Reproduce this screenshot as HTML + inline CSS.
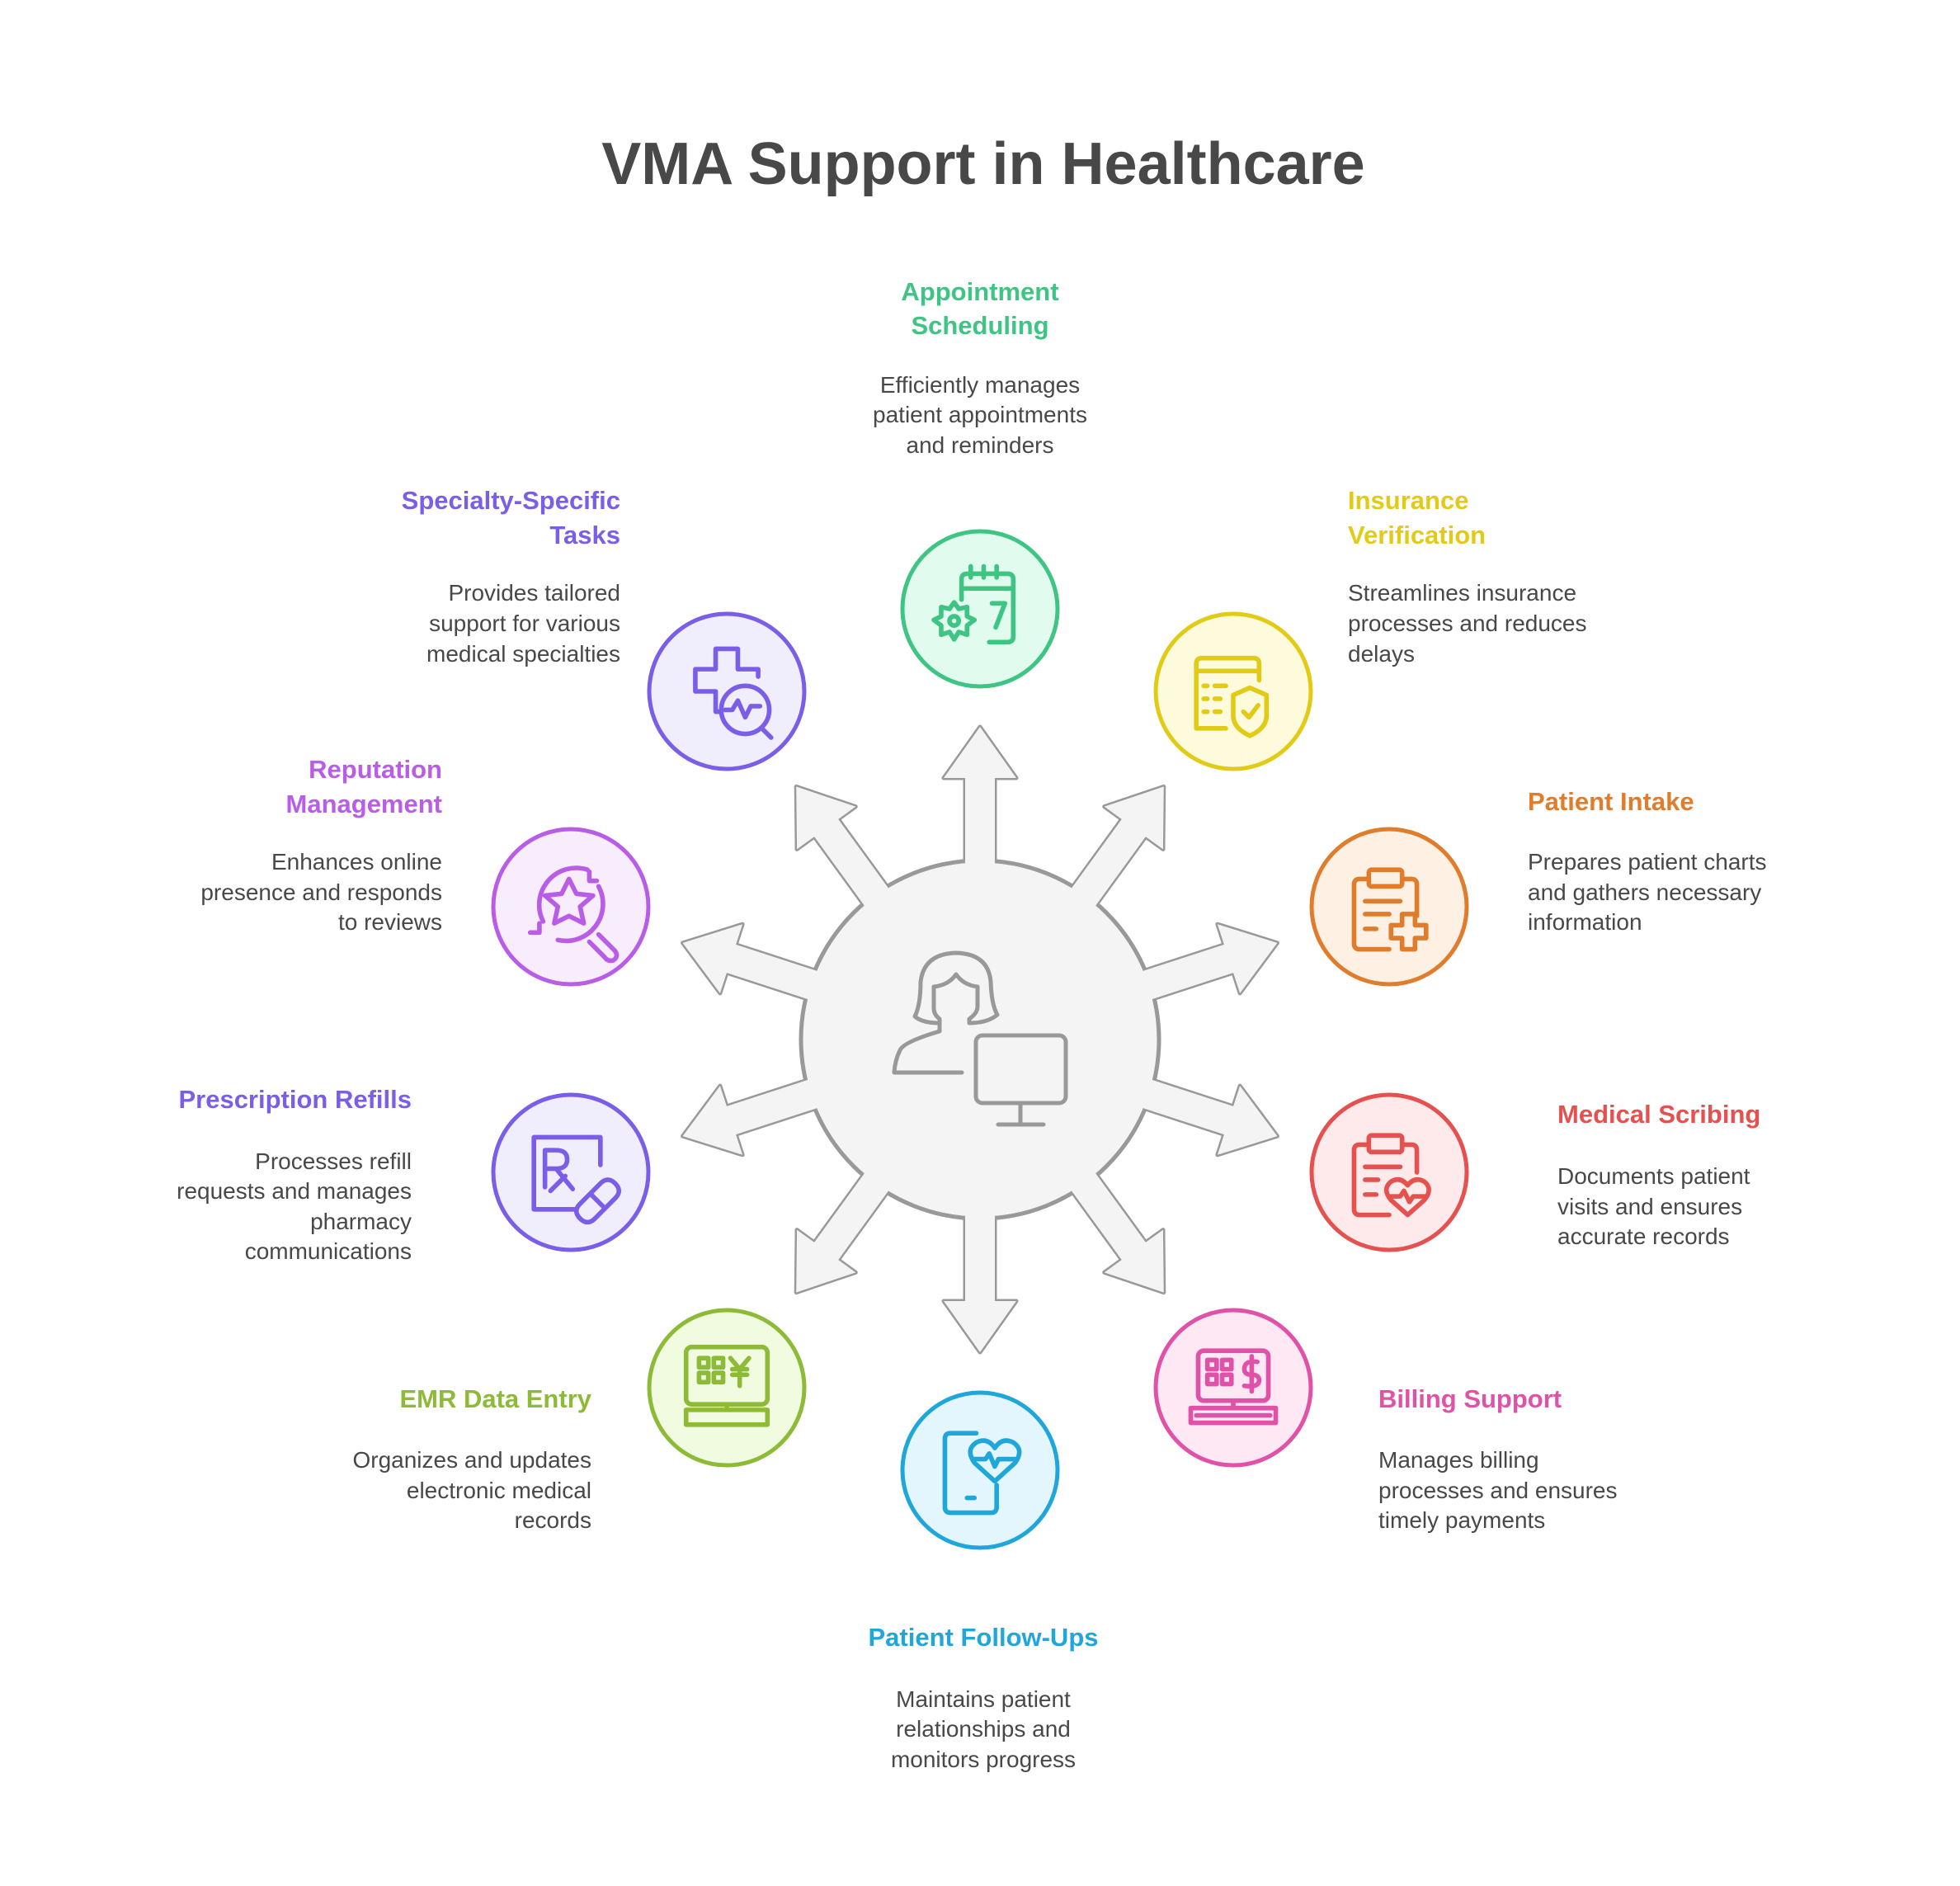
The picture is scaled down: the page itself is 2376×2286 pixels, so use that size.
<!DOCTYPE html>
<html><head><meta charset="utf-8"><style>
html,body{margin:0;padding:0;background:#fff}
svg{display:block}
text{font-family:"Liberation Sans",Arial,sans-serif}
.h{font-size:31px;font-weight:bold}
.d{font-size:28px;fill:#484848}
</style></head><body>
<svg width="2376" height="2286" viewBox="0 0 2376 2286" xmlns="http://www.w3.org/2000/svg">
<rect width="2376" height="2286" fill="#fff"/>
<text x="1192" y="223" text-anchor="middle" font-size="72" font-weight="bold" fill="#484848">VMA Support in Healthcare</text>

<defs>
<polygon id="arS" points="-18,-150 -18,-317 -44,-317 0,-379 44,-317 18,-317 18,-150"/>
<polygon id="arF" points="-18,-195 -18,-317 -44,-317 0,-379 44,-317 18,-317 18,-195"/>
</defs>
<g transform="translate(1188,1260)">
<g fill="#f4f4f4" stroke="#999" stroke-width="5" stroke-linejoin="round">
<use href="#arS" transform="rotate(0)"/><use href="#arS" transform="rotate(36)"/><use href="#arS" transform="rotate(72)"/><use href="#arS" transform="rotate(108)"/><use href="#arS" transform="rotate(144)"/><use href="#arS" transform="rotate(180)"/><use href="#arS" transform="rotate(216)"/><use href="#arS" transform="rotate(252)"/><use href="#arS" transform="rotate(288)"/><use href="#arS" transform="rotate(324)"/>
<circle r="217"/>
</g>
<g fill="#f4f4f4">
<use href="#arF" transform="rotate(0)"/><use href="#arF" transform="rotate(36)"/><use href="#arF" transform="rotate(72)"/><use href="#arF" transform="rotate(108)"/><use href="#arF" transform="rotate(144)"/><use href="#arF" transform="rotate(180)"/><use href="#arF" transform="rotate(216)"/><use href="#arF" transform="rotate(252)"/><use href="#arF" transform="rotate(288)"/><use href="#arF" transform="rotate(324)"/>
</g>
</g>
<!-- center icon -->
<g fill="none" stroke="#999" stroke-width="5" stroke-linecap="round" stroke-linejoin="round">
<path d="M1166,1300 L1084,1300 Q1085,1285 1091,1273 Q1095,1263 1139,1250 L1139,1240 Q1118,1240 1109,1232 Q1116,1218 1116,1190 Q1120,1156 1159,1155 Q1198,1156 1201,1190 Q1202,1218 1209,1230 Q1197,1240 1175,1240 L1175,1235 Q1185,1228 1185,1220 L1185,1196 Q1168,1194 1159,1181 Q1150,1194 1132,1196 L1132,1222 Q1132,1230 1139,1235 L1139,1240"/>
<rect x="1183" y="1255" width="109" height="82" rx="8"/>
<path d="M1237,1337 L1237,1363 M1210,1363 L1265,1363"/>
</g>

<!-- nodes -->
<g stroke-width="5">
<circle cx="1188" cy="738" r="94" fill="#e2fbef" stroke="#3ec483"/>
<circle cx="1495" cy="838" r="94" fill="#fefadc" stroke="#e1cb17"/>
<circle cx="1684" cy="1099" r="94" fill="#fef0e3" stroke="#e07d2c"/>
<circle cx="1684" cy="1421" r="94" fill="#feeaea" stroke="#e5514f"/>
<circle cx="1495" cy="1682" r="94" fill="#fde8f4" stroke="#e052a8"/>
<circle cx="1188" cy="1782" r="94" fill="#e4f6fd" stroke="#1fa6da"/>
<circle cx="881" cy="1682" r="94" fill="#f1fbe0" stroke="#8dbb38"/>
<circle cx="692" cy="1421" r="94" fill="#f0edfd" stroke="#7b5ee8"/>
<circle cx="692" cy="1099" r="94" fill="#f8edfd" stroke="#b95de6"/>
<circle cx="881" cy="838" r="94" fill="#f0edfd" stroke="#7b5ee8"/>
</g>

<g fill="none" stroke-width="5" stroke-linecap="round" stroke-linejoin="round">
<g transform="translate(1188,738) scale(1.12)" stroke="#3ec483">
<path d="M-20,-10 L-20,-32 Q-20,-38 -14,-38 L30,-38 Q36,-38 36,-32 L36,30 Q36,36 30,36 L10,36"/>
<path d="M-20,-22 L36,-22 M-10,-46 L-10,-34 M4,-46 L4,-34 M18,-46 L18,-34"/>
<path d="M13,-6 L27,-6 L17,20"/>
<path d="M-28,-7 L-23,0 L-14,-2 L-14,8 L-6,12 L-14,18 L-14,28 L-23,25 L-28,33 L-33,25 L-42,28 L-42,18 L-50,12 L-42,8 L-42,-2 L-33,0 Z"/>
<circle cx="-28" cy="13" r="5"/>
</g>
<g transform="translate(1495,838) scale(1.12)" stroke="#e1cb17">
<path d="M-8,40 L-40,40 L-40,-30 Q-40,-36 -34,-36 L22,-36 Q28,-36 28,-30 L28,-12"/>
<path d="M-40,-22 L28,-22 M-32,-6 L-28,-6 M-20,-6 L-8,-6 M-32,8 L-28,8 M-20,8 L-14,8 M-32,22 L-28,22 M-20,22 L-14,22"/>
<path d="M18,-4 L36,4 L36,26 Q36,40 18,48 Q0,40 0,26 L0,4 Z"/>
<path d="M11,22 L17,28 L27,15"/>
</g>
<g transform="translate(1684,1099) scale(1.12)" stroke="#e07d2c">
<path d="M-24,-30 L-32,-30 Q-38,-30 -38,-24 L-38,40 Q-38,46 -32,46 L0,46 M30,10 L30,-24 Q30,-30 24,-30 L16,-30"/>
<rect x="-22" y="-40" width="36" height="18" rx="3"/>
<path d="M-26,-6 L12,-6 M-26,8 L0,8 M-26,24 L-14,24"/>
<path d="M14,8 L28,8 L28,20 L40,20 L40,34 L28,34 L28,46 L14,46 L14,34 L2,34 L2,20 L14,20 Z"/>
</g>
<g transform="translate(1684,1421) scale(1.12)" stroke="#e5514f">
<path d="M-24,-30 L-32,-30 Q-38,-30 -38,-24 L-38,40 Q-38,46 -32,46 L0,46 M30,0 L30,-24 Q30,-30 24,-30 L16,-30"/>
<rect x="-22" y="-40" width="36" height="18" rx="3"/>
<path d="M-26,-6 L12,-6 M-26,8 L-12,8 M-26,24 L-14,24"/>
<path d="M20,46 L2,30 Q-8,18 2,10 Q12,4 20,14 Q28,4 38,10 Q48,18 38,30 Z"/>
<path d="M0,26 L12,26 L16,20 L22,32 L26,26 L40,26"/>
</g>
<g transform="translate(1495,1682) scale(1.12)" stroke="#e052a8">
<rect x="-38" y="-40" width="76" height="54" rx="6"/>
<rect x="-28" y="-30" width="10" height="10"/><rect x="-12" y="-30" width="10" height="10"/>
<rect x="-28" y="-14" width="10" height="10"/><rect x="-12" y="-14" width="10" height="10"/>
<path d="M26,-28 Q12,-30 12,-20 Q12,-14 20,-14 Q28,-14 28,-8 Q28,0 12,-2 M20,-34 L20,4"/>
<path d="M0,14 L0,22 M-46,22 L46,22 L46,38 L-46,38 Z M-40,30 L40,30"/>
</g>
<g transform="translate(1188,1782) scale(1.12)" stroke="#1fa6da">
<path d="M-4,-40 L-32,-40 Q-38,-40 -38,-34 L-38,40 Q-38,46 -32,46 L12,46 Q18,46 18,40 L18,16"/>
<path d="M-14,30 L-6,30"/>
<path d="M16,12 L-6,-8 Q-16,-22 -4,-30 Q8,-36 16,-24 Q24,-36 36,-30 Q48,-22 38,-8 Z"/>
<path d="M-6,-12 L6,-12 L10,-18 L16,-4 L20,-12 L38,-12"/>
</g>
<g transform="translate(881,1682) scale(1.12)" stroke="#8dbb38">
<rect x="-44" y="-44" width="88" height="62" rx="6"/>
<rect x="-30" y="-32" width="10" height="10"/><rect x="-14" y="-32" width="10" height="10"/>
<rect x="-30" y="-16" width="10" height="10"/><rect x="-14" y="-16" width="10" height="10"/>
<path d="M4,-32 L14,-20 L24,-32 M14,-20 L14,-2 M6,-14 L22,-14 M6,-20 L22,-20"/>
<path d="M0,18 L0,24 M-44,24 L44,24 L44,40 L-44,40 Z"/>
</g>
<g transform="translate(692,1421) scale(1.12)" stroke="#7b5ee8">
<path d="M4,40 L-40,40 L-40,-38 L32,-38 L32,-8"/>
<path d="M-28,16 L-28,-24 L-16,-24 Q-4,-24 -4,-14 Q-4,-4 -16,-4 L-28,-4 M-16,-4 L2,18 M-6,4 L-22,20"/>
<path d="M10,34 L32,12 Q40,4 48,12 Q56,20 48,28 L26,50 Q18,58 10,50 Q2,42 10,34 Z M21,23 L37,39"/>
</g>
<g transform="translate(692,1099) scale(1.12)" stroke="#b95de6">
<path d="M-30,16 A40,40 0 0 1 18,-40 M30,-22 A40,40 0 0 1 -14,36"/>
<path d="M28,-28 L20,-28 L20,-38 M-44,28 L-34,28 L-34,18"/>
<path d="M-2,-30 L6,-14 L24,-12 L10,0 L14,18 L-2,10 L-18,18 L-14,0 L-28,-12 L-10,-14 Z"/>
<path d="M30,30 L48,48 Q52,54 46,58 Q40,60 36,54 L20,38"/>
</g>
<g transform="translate(881,838) scale(1.12)" stroke="#7b5ee8">
<path d="M-6,22 L-12,22 L-12,0 L-34,0 L-34,-24 L-12,-24 L-12,-46 L12,-46 L12,-24 L34,-24 L34,-16"/>
<circle cx="20" cy="20" r="26"/>
<path d="M38,40 L48,50 M-2,20 L6,20 L12,10 L20,28 L26,16 L36,16"/>
</g>
</g>

<g transform="translate(0,-5)">
<g class="h" fill="#3ec483" text-anchor="middle"><text x="1188" y="369">Appointment</text><text x="1188" y="410">Scheduling</text></g>
<g class="d" text-anchor="middle"><text x="1188" y="481">Efficiently manages</text><text x="1188" y="517">patient appointments</text><text x="1188" y="554">and reminders</text></g>

<g class="h" fill="#e1cb17"><text x="1634" y="622">Insurance</text><text x="1634" y="664">Verification</text></g>
<g class="d"><text x="1634" y="733">Streamlines insurance</text><text x="1634" y="770">processes and reduces</text><text x="1634" y="807">delays</text></g>

<g class="h" fill="#e07d2c"><text x="1852" y="987">Patient Intake</text></g>
<g class="d"><text x="1852" y="1059">Prepares patient charts</text><text x="1852" y="1096">and gathers necessary</text><text x="1852" y="1132">information</text></g>

<g class="h" fill="#e5514f"><text x="1888" y="1366">Medical Scribing</text></g>
<g class="d"><text x="1888" y="1440">Documents patient</text><text x="1888" y="1477">visits and ensures</text><text x="1888" y="1513">accurate records</text></g>

<g class="h" fill="#e052a8"><text x="1671" y="1711">Billing Support</text></g>
<g class="d"><text x="1671" y="1784">Manages billing</text><text x="1671" y="1821">processes and ensures</text><text x="1671" y="1857">timely payments</text></g>

<g class="h" fill="#1fa6da" text-anchor="middle"><text x="1192" y="2000">Patient Follow-Ups</text></g>
<g class="d" text-anchor="middle"><text x="1192" y="2074">Maintains patient</text><text x="1192" y="2110">relationships and</text><text x="1192" y="2147">monitors progress</text></g>

<g class="h" fill="#8dbb38" text-anchor="end"><text x="717" y="1711">EMR Data Entry</text></g>
<g class="d" text-anchor="end"><text x="717" y="1784">Organizes and updates</text><text x="717" y="1821">electronic medical</text><text x="717" y="1857">records</text></g>

<g class="h" fill="#7b5ee8" text-anchor="end"><text x="499" y="1348">Prescription Refills</text></g>
<g class="d" text-anchor="end"><text x="499" y="1422">Processes refill</text><text x="499" y="1458">requests and manages</text><text x="499" y="1495">pharmacy</text><text x="499" y="1531">communications</text></g>

<g class="h" fill="#b95de6" text-anchor="end"><text x="536" y="948">Reputation</text><text x="536" y="990">Management</text></g>
<g class="d" text-anchor="end"><text x="536" y="1059">Enhances online</text><text x="536" y="1096">presence and responds</text><text x="536" y="1132">to reviews</text></g>

<g class="h" fill="#7b5ee8" text-anchor="end"><text x="752" y="622">Specialty-Specific</text><text x="752" y="664">Tasks</text></g>
<g class="d" text-anchor="end"><text x="752" y="733">Provides tailored</text><text x="752" y="770">support for various</text><text x="752" y="807">medical specialties</text></g>
</g>
</svg>
</body></html>
